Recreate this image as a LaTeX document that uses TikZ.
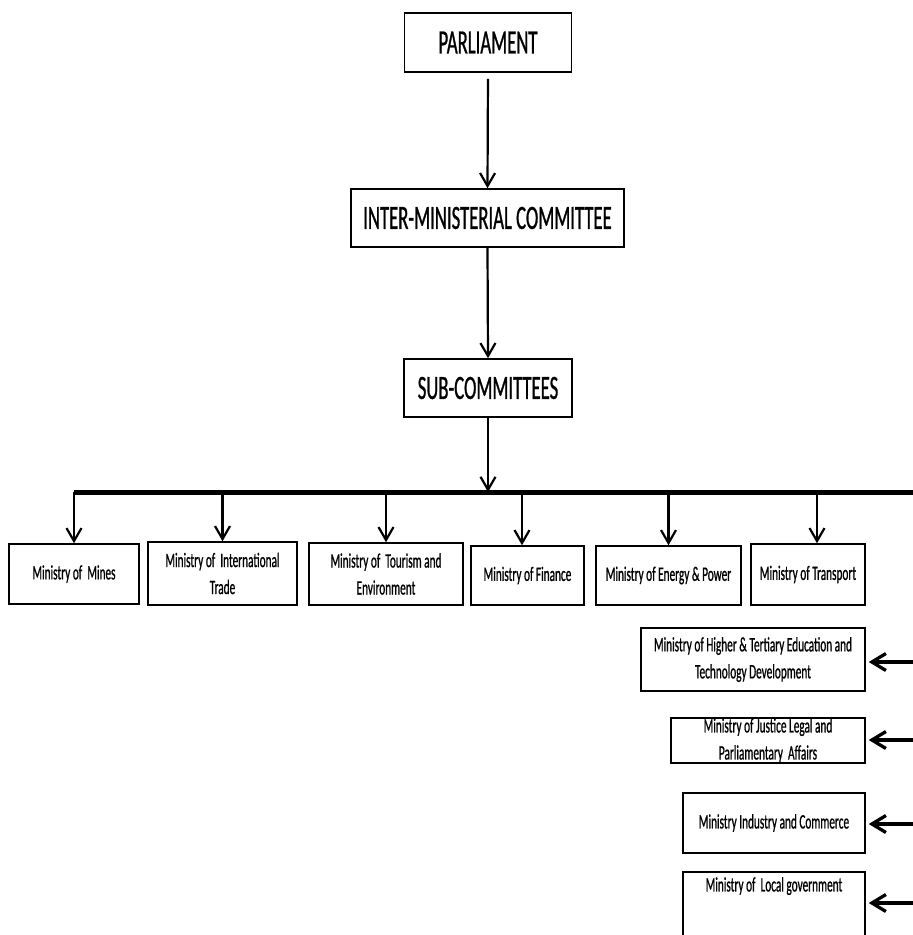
\documentclass[tikz,border=0pt]{standalone}
\usepackage{fontspec}
\setmainfont{Carlito}[FakeStretch=0.55, FakeBold=0.8]
\usetikzlibrary{arrows.meta, positioning, calc}

\tikzset{
  topbox/.style={draw, line width=1.5pt, inner sep=0pt, align=center,
    font=\fontsize{34}{40}\selectfont},
  minbox/.style={draw, line width=1.5pt, inner sep=0pt, align=center,
    font=\fontsize{20.5}{27}\selectfont},
  link/.style={->, line width=2.2pt},
  feed/.style={-{Straight Barb[length=14pt, width=17pt, line width=3.3pt]},
    line width=3.5pt, shorten >=3pt},
}

\begin{document}
\begin{tikzpicture}[x=1pt, y=-1pt,
    >={Straight Barb[length=13pt, width=15pt, line width=2.2pt]}]
  \useasboundingbox (0,0) rectangle (913,935);
  \clip (0,0) rectangle (913,935);

  % top chain
  \node[topbox, minimum width=167, minimum height=59] (parl) at (488,42.5) {PARLIAMENT};
  \node[topbox, minimum width=273, minimum height=58] (imc) at (487.5,218) {INTER-MINISTERIAL COMMITTEE};
  \node[topbox, minimum width=168, minimum height=58] (sub) at (488,388) {SUB-COMMITTEES};
  \draw[link, shorten <=6pt] (parl.south) -- (imc.north);
  \draw[link] (imc.south) -- (sub.north);

  % bus
  \coordinate (busL) at (74,492);
  \coordinate (busR) at (913,492);
  \draw[line width=5pt] (busL) -- (busR);
  \draw[link] (sub.south) -- (sub.south |- busL);

  % ministries below the bus
  \node[minbox, minimum width=130, minimum height=60] (mines) at (74,574) {Ministry of~ Mines};
  \node[minbox, minimum width=149, minimum height=63] (trade) at (222.5,573.5) {Ministry of~ International\\Trade};
  \node[minbox, minimum width=154, minimum height=62] (tourism) at (386,574) {Ministry of~ Tourism and\\Environment};
  \node[minbox, minimum width=113, minimum height=59] (finance) at (527.5,575.5) {Ministry of Finance};
  \node[minbox, minimum width=145, minimum height=59] (energy) at (668.5,575.5) {Ministry of Energy \& Power};
  \node[minbox, minimum width=114, minimum height=61] (transport) at (808,574.5) {Ministry of Transport};

  \foreach \m/\dx in {mines/0, trade/0, tourism/0, finance/-5.5, energy/0, transport/9}
    \draw[link] ([xshift=\dx pt]\m.north |- busL) -- ([xshift=\dx pt]\m.north);

  % ministries on the right
  \node[minbox, minimum width=224, minimum height=63] (higher) at (753,659.5)
    {Ministry of Higher \& Tertiary Education and\\Technology Development};
  \node[minbox, minimum width=194, minimum height=45] (justice) at (768,740.5)
    {Ministry of Justice Legal and\\Parliamentary~ Affairs};
  \node[minbox, minimum width=182, minimum height=60] (industry) at (774,823)
    {Ministry Industry and Commerce};
  \node[minbox, minimum width=182, minimum height=90, anchor=north,
    label={[anchor=north, inner sep=0pt, yshift=-6pt, font=\fontsize{20.5}{27}\selectfont]north:Ministry of~ Local government}]
    (local) at (774,871) {};

  \coordinate (inH) at (913,662);
  \coordinate (inJ) at (913,740);
  \coordinate (inI) at (913,824);
  \coordinate (inL) at (913,903);
  \draw[feed] (inH) -- (higher.east |- inH);
  \draw[feed] (inJ) -- (justice.east |- inJ);
  \draw[feed] (inI) -- (industry.east |- inI);
  \draw[feed] (inL) -- (local.east |- inL);
\end{tikzpicture}
\end{document}
